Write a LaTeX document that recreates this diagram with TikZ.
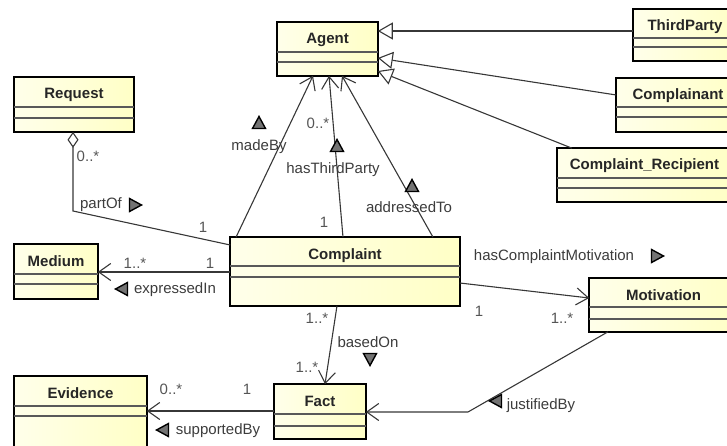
\documentclass[tikz,border=0pt]{standalone}
\usepackage{fontspec}
\setmainfont{Liberation Sans}
\usetikzlibrary{arrows.meta,calc}
\definecolor{clsL}{RGB}{255,255,234}
\definecolor{clsR}{RGB}{255,255,198}
\definecolor{lnC}{RGB}{55,55,55}
\definecolor{lblC}{RGB}{60,60,60}
\definecolor{multC}{RGB}{85,85,85}
\newcommand\umlclass[8]{%
  \node[cls, minimum width={#4-#2-2.4}, minimum height={#5-#3-2.4}] (#1) at ({(#2+#4)/2},{(#3+#5)/2}) {};
  \draw[comp] (#2+1.3,#6) -- (#4-1.3,#6);
  \draw[comp] (#2+1.3,#7) -- (#4-1.3,#7);
  \node[ttl] (#1t) at ({(#2+#4)/2},#3+23) {#8};
}
\newcommand\rtri[2]{\filldraw[rolemk,shift={(#1,#2)}] (6.5,0) -- (-5.5,-6.5) -- (-5.5,6.5) -- cycle;}
\newcommand\ltri[2]{\filldraw[rolemk,shift={(#1,#2)}] (-6.5,0) -- (5.5,-6.5) -- (5.5,6.5) -- cycle;}
\newcommand\utri[2]{\filldraw[rolemk,shift={(#1,#2)}] (0,-6.5) -- (-6.5,5.5) -- (6.5,5.5) -- cycle;}
\newcommand\dtri[2]{\filldraw[rolemk,shift={(#1,#2)}] (0,6.5) -- (-6.5,-5.5) -- (6.5,-5.5) -- cycle;}
\begin{document}
\begin{tikzpicture}[x=1pt,y=-1pt,
  cls/.style={rectangle, draw=black, line width=2.4pt, left color=clsL, right color=clsR, inner sep=0pt, outer sep=0pt},
  comp/.style={draw=black!65, line width=1.3pt},
  ttl/.style={anchor=base, font=\fontsize{15}{18}\selectfont\bfseries, text=black!85, inner sep=0pt},
  lbl/.style={font=\fontsize{15}{18}\selectfont, text=lblC, inner sep=0pt, text height=11pt, text depth=3pt},
  mult/.style={font=\fontsize{15}{18}\selectfont, text=multC, inner sep=0pt, text height=11pt, text depth=3pt},
  conn/.style={draw=lnC, line width=1.1pt},
  gen/.style={conn, -{Triangle[open, length=15pt, width=17pt, line width=1.1pt]}},
  nav/.style={conn, -{Straight Barb[length=12pt, width=17pt, line width=1.1pt]}},
  agg/.style={conn, {Diamond[open, length=16pt, width=11pt, line width=1.1pt]}-},
  rolemk/.style={draw=black, fill=black!55, line width=1.4pt, line join=miter}
]
\useasboundingbox (0,0) rectangle (727,446);
\clip (0,0) rectangle (727,446);

% classes
\umlclass{agent}{276}{21}{379}{77}{52}{62}{Agent}
\umlclass{request}{13}{76}{135}{133}{107}{118}{Request}
\umlclass{thirdparty}{632}{8}{738}{62}{38}{47}{ThirdParty}
\umlclass{complainant}{615}{77}{741}{133}{107}{117}{Complainant}
\umlclass{recipient}{556}{147}{733}{203}{178}{188}{Complaint\_Recipient}
\umlclass{medium}{13}{243}{99}{300}{274}{284}{Medium}
\umlclass{evidence}{13}{375}{148}{462}{406}{416}{Evidence}
\umlclass{complaint}{229}{236}{461}{307}{266}{277}{Complaint}
\umlclass{motivation}{588}{277}{739}{333}{307}{319}{Motivation}
\umlclass{fact}{273}{383}{367}{440}{414}{426}{Fact}

% generalizations
\draw[gen] (thirdparty.west |- 0,31) -- (agent.east |- 0,31);
\draw[gen] (complainant.west |- 0,95) -- (agent.east |- 0,58);
\draw[gen] (recipient.north -| 572,0) -- (agent.east |- 0,71);

% associations to Agent
\draw[nav] (complaint.north -| 236,0) -- (agent.south -| 313,0);
\draw[nav] (complaint.north -| 343,0) -- (agent.south -| 329,0);
\draw[nav] (complaint.north -| 433,0) -- (agent.south -| 342,0);

% partOf
\coordinate (pbend) at (73,211);
\draw[agg] (request.south -| 73,0) -- (pbend) -- (complaint.west |- 0,245);

% expressedIn
\draw[nav] (complaint.west |- 0,272) -- (medium.east |- 0,272);
% supportedBy
\draw[nav] (fact.west |- 0,411) -- (evidence.east |- 0,411);
% basedOn
\draw[nav] (complaint.south -| 337,0) -- (fact.north -| 325,0);
% hasComplaintMotivation
\draw[nav] (complaint.east |- 0,283) -- (motivation.west |- 0,298);
% justifiedBy
\coordinate (jbend) at (468,412);
\draw[nav] (motivation.south -| 608,0) -- (jbend) -- (fact.east |- 0,412);

% labels and markers
\utri{259}{123}
\node[lbl] (lmade) at (259,147) {madeBy};
\node[mult] (m1) at (318,125) {0..*};
\utri{337}{146}
\node[lbl] (lthird) at (333,170) {hasThirdParty};
\node[mult] (m2) at (324,223) {1};
\utri{412}{186}
\node[lbl] (laddr) at (409,208) {addressedTo};

\node[mult] (m3) at (88,158) {0..*};
\node[lbl] (lpart) at (101,205) {partOf};
\rtri{135}{205}
\node[mult] (m4) at (203,229) {1};

\node[mult] (m5) at (135,264) {1..*};
\node[mult] (m6) at (210,264) {1};
\ltri{122}{289}
\node[lbl] (lexpr) at (175,289) {expressedIn};

\node[mult] (m7) at (171,390) {0..*};
\node[mult] (m8) at (247,390) {1};
\ltri{163}{430}
\node[lbl] (lsupp) at (218,430) {supportedBy};

\node[mult] (m9) at (317,319) {1..*};
\node[lbl] (lbased) at (368,343) {basedOn};
\dtri{370}{359}
\node[mult] (m10) at (307,368) {1..*};

\node[lbl] (lmot) at (554,256) {hasComplaintMotivation};
\rtri{657}{256}
\node[mult] (m11) at (479,312) {1};
\node[mult] (m12) at (562,319) {1..*};

\ltri{496}{401}
\node[lbl] (ljust) at (541,405) {justifiedBy};
\end{tikzpicture}
\end{document}
